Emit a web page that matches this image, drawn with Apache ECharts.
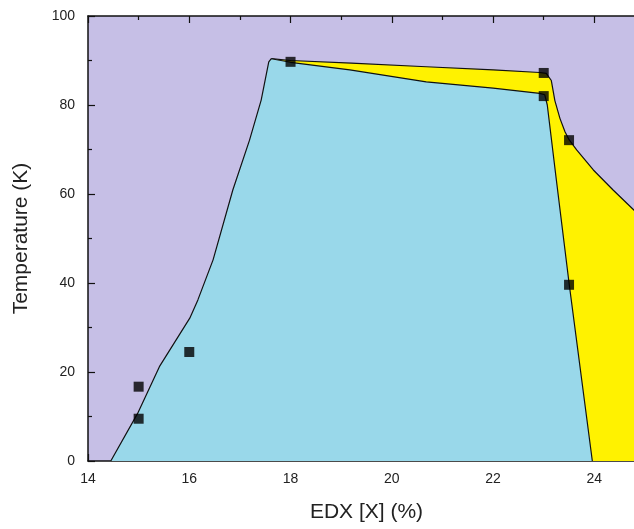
<!DOCTYPE html>
<html>
<head>
<meta charset="utf-8">
<script src="https://cdn.jsdelivr.net/npm/echarts@6/dist/echarts.min.js"></script>
<style>
html,body{margin:0;padding:0;background:#fff}
#chart{width:634px;height:529px}
</style>
</head>
<body>
<div id="chart"></div>
<script>
// cyan phase boundary (EDX %, temperature K)
const cyanX = [14.45, 14.98, 15.41, 16.01, 16.17, 16.47, 16.86, 17.19, 17.42, 17.57, 17.62, 18.0, 19.17, 20.68, 22.0, 22.92, 23.02, 23.07, 23.25, 23.5, 23.96];
const cyanT = [0, 10.7, 21.2, 32.1, 36.2, 45.2, 60.9, 72.1, 81.1, 89.7, 90.4, 89.6, 87.9, 85.2, 83.8, 82.6, 82.3, 80.0, 63.1, 40.0, 0];

// yellow phase upper boundary
const yelX = [17.62, 18.0, 19.2, 20.68, 22.0, 22.92, 23.05, 23.15, 23.22, 23.32, 23.42, 23.5, 23.65, 23.98, 24.37, 24.78, 25.0];
const yelT = [90.4, 90.0, 89.4, 88.6, 87.9, 87.3, 87.1, 85.5, 81.0, 77.0, 74.0, 72.2, 69.9, 65.4, 60.9, 56.4, 54.5];

// measured points
const ptsX = [15, 15, 16, 18, 23, 23, 23.5, 23.5];
const ptsT = [9.5, 16.7, 24.5, 89.7, 87.2, 82.0, 72.1, 39.6];

const xTicks = [14, 16, 18, 20, 22, 24];

const zip = (a, b) => a.map((v, i) => [v, b[i]]);
const ink = '#111';
const font = '"Liberation Sans", Arial, sans-serif';

const tickStyle = {show: true, inside: true, length: 7, lineStyle: {color: ink, width: 1.2}};
const minorStyle = {show: true, splitNumber: 2, length: 4, lineStyle: {color: ink, width: 1.2}};

const chart = echarts.init(document.getElementById('chart'));
chart.setOption({
  animation: false,
  // plot runs past the right edge of the window, as in the source image
  grid: {left: 88, top: 16, bottom: 68, right: -11, outerBoundsMode: 'none', containLabel: false,
    show: true, backgroundColor: '#c6bfe6', borderWidth: 0},
  xAxis: [
    {type: 'value', min: 14, max: 25, interval: 2, position: 'bottom',
      name: 'EDX [X] (%)', nameLocation: 'middle', nameGap: 41,
      nameTextStyle: {fontFamily: font, fontSize: 21, color: '#222'},
      axisLine: {lineStyle: {color: ink, width: 1.5}},
      axisTick: tickStyle, minorTick: minorStyle, splitLine: {show: false},
      axisLabel: {fontFamily: font, fontSize: 14, color: '#222', margin: 11,
        formatter: v => xTicks.includes(v) ? String(v) : ''}},
    {type: 'value', min: 14, max: 25, interval: 2, position: 'top',
      axisLine: {lineStyle: {color: ink, width: 1.5}},
      axisTick: tickStyle, minorTick: minorStyle, splitLine: {show: false},
      axisLabel: {show: false}}
  ],
  yAxis: {type: 'value', min: 0, max: 100, interval: 20,
    name: 'Temperature (K)', nameLocation: 'middle', nameGap: 56,
    nameTextStyle: {fontFamily: font, fontSize: 21, color: '#222'},
    axisLine: {show: true, lineStyle: {color: ink, width: 1.5}},
    axisTick: tickStyle, minorTick: minorStyle, splitLine: {show: false},
    axisLabel: {fontFamily: font, fontSize: 14, color: '#222', margin: 13}},
  series: [
    {type: 'line', data: zip(yelX, yelT), showSymbol: false, symbol: 'none',
      lineStyle: {color: ink, width: 1.2}, areaStyle: {color: '#fff200', opacity: 1}, z: 2},
    {type: 'line', data: zip(cyanX, cyanT), showSymbol: false, symbol: 'none',
      lineStyle: {color: ink, width: 1.2}, areaStyle: {color: '#99d8ea', opacity: 1}, z: 3},
    {type: 'scatter', data: zip(ptsX, ptsT), symbol: 'rect', symbolSize: 10,
      itemStyle: {color: '#000'}, z: 5}
  ]
});
</script>
</body>
</html>
